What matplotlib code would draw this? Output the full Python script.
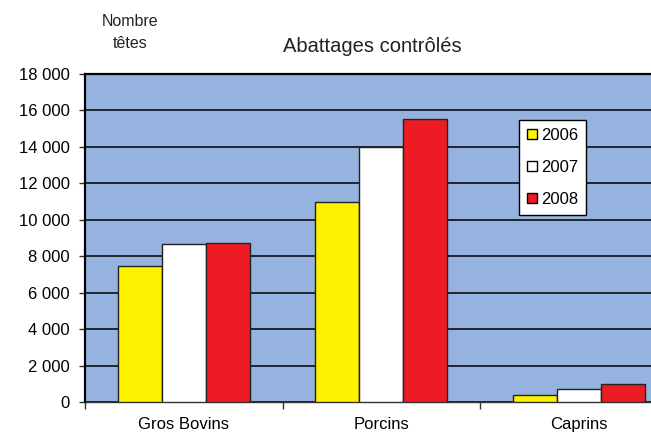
import matplotlib
matplotlib.use("Agg")
import matplotlib.pyplot as plt
from matplotlib.patches import Patch
import numpy as np

categories = ["Gros Bovins", "Porcins", "Caprins"]
years = ["2006", "2007", "2008"]
v2006 = [7450, 11000, 380]
v2007 = [8650, 14000, 700]
v2008 = [8750, 15550, 1000]
yticks = [0, 2000, 4000, 6000, 8000, 10000, 12000, 14000, 16000, 18000]
ytick_labels = ["0", "2 000", "4 000", "6 000", "8 000", "10 000", "12 000", "14 000", "16 000", "18 000"]

colors = ["#FFF200", "#FFFFFF", "#ED1C24"]
bg = "#95B3DE"

plt.rcParams['font.family'] = ['Liberation Sans', 'DejaVu Sans']

fig = plt.figure(figsize=(6.51, 4.34), dpi=100)
ax = fig.add_axes([85/651, 32/434, 592.5/651, 328/434])
ax.set_facecolor(bg)

x = np.arange(len(categories))
w = 1/4.5
for i, (vals, c) in enumerate(zip([v2006, v2007, v2008], colors)):
    ax.bar(x + (i-1)*w, vals, width=w, color=c, edgecolor="#222222", linewidth=1.0, zorder=3)

ax.set_xlim(-0.5, 2.5)
ax.set_ylim(0, 18000)
ax.set_yticks(yticks)
ax.set_yticklabels(ytick_labels, fontsize=12)
ax.yaxis.grid(True, color="black", linewidth=1.1, zorder=1)
ax.set_axisbelow(True)

ax.set_xticks(x)
ax.set_xticklabels(categories, fontsize=12)
ax.set_xticks([-0.5, 0.5, 1.5, 2.5], minor=True)
ax.tick_params(axis='x', which='major', length=0, pad=11)
ax.tick_params(axis='x', which='minor', length=5, width=1, color="#333333")
ax.tick_params(axis='y', length=4, width=1, pad=7, color="#333333")

for s in ["top", "left"]:
    ax.spines[s].set_color("black")
    ax.spines[s].set_linewidth(1.6)
ax.spines["bottom"].set_color("#333333")
ax.spines["bottom"].set_linewidth(1.0)
ax.spines["right"].set_visible(False)

fig.text(372/651, 1 - 47/434, "Abattages contrôlés", fontsize=14.5, ha="center", va="center", color="#222222")
fig.text(130/651, 1 - 22/434, "Nombre", fontsize=11.5, ha="center", va="center", color="#222222")
fig.text(130/651, 1 - 44/434, "têtes", fontsize=11.5, ha="center", va="center", color="#222222")

handles = [Patch(facecolor=c, edgecolor="black", linewidth=1.0) for c in colors]
leg = fig.legend(handles, years, loc="upper left", bbox_to_anchor=(519/651, 1 - 120/434),
                 fontsize=12, frameon=True, fancybox=False, framealpha=1,
                 handlelength=0.55, handleheight=0.55, handletextpad=0.25,
                 labelspacing=1.0, borderpad=0.5, borderaxespad=0)
leg.get_frame().set_edgecolor("black")
leg.get_frame().set_linewidth(1.0)

fig.savefig("out.png", dpi=100)
